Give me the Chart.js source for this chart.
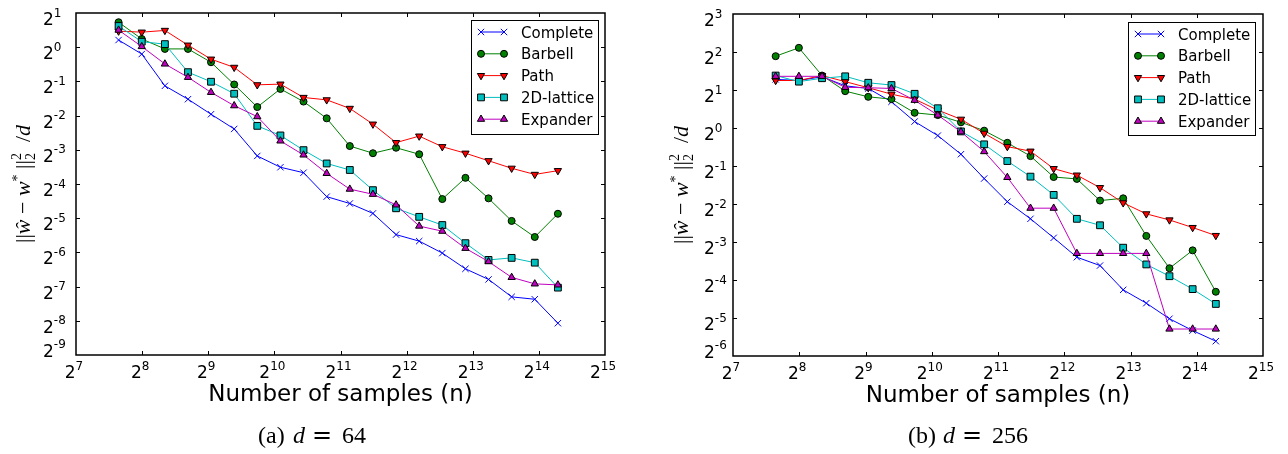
<!DOCTYPE html>
<html>
<head>
<meta charset="utf-8">
<script src="https://cdn.jsdelivr.net/npm/chart.js@4.4.0/dist/chart.umd.min.js"></script>
<style>
  body { margin: 0; background: #fff; }
  #wrap { position: relative; width: 1288px; height: 454px; }
  canvas { position: absolute; top: 0; display: block; }
  #chartA { left: 0; }
  #chartB { left: 644px; }
</style>
</head>
<body>
<div id="wrap">
  <canvas id="chartA" width="644" height="454"></canvas>
  <canvas id="chartB" width="644" height="454"></canvas>
</div>
<script>
// Number of samples n (both panels)
const samples = [200, 255, 325, 414, 527, 672, 856, 1091, 1390, 1772, 2258, 2877, 3667, 4673, 5954, 7588, 9666, 12316, 15695, 20000];

// log2 of ||w_hat - w*||^2 / d, panel (a) d = 64
const d64Complete = [0.21, -0.20, -1.13, -1.52, -1.96, -2.39, -3.18, -3.51, -3.67, -4.37, -4.57, -4.86, -5.48, -5.67, -6.02, -6.48, -6.79, -7.30, -7.37, -8.07];
const d64Barbell  = [0.73, 0.24, -0.05, -0.05, -0.44, -1.09, -1.75, -1.22, -1.59, -2.08, -2.89, -3.10, -2.94, -3.13, -4.44, -3.82, -4.42, -5.08, -5.55, -4.87];
const d64Path     = [0.47, 0.44, 0.49, 0.06, -0.35, -0.59, -1.10, -1.08, -1.47, -1.54, -1.79, -2.25, -2.79, -2.60, -2.91, -3.10, -3.32, -3.54, -3.72, -3.61];
const d64Lattice  = [0.62, 0.16, 0.09, -0.73, -1.01, -1.36, -2.30, -2.58, -3.01, -3.40, -3.59, -4.18, -4.71, -4.96, -5.20, -5.73, -6.22, -6.16, -6.30, -7.03];
const d64Expander = [0.50, 0.02, -0.49, -0.88, -1.32, -1.71, -2.03, -2.74, -3.15, -3.69, -4.15, -4.30, -4.61, -5.23, -5.38, -5.88, -6.27, -6.73, -6.92, -6.95];

// log2 of ||w_hat - w*||^2 / d, panel (b) d = 256
const d256Complete = [1.28, 1.25, 1.35, 1.11, 1.04, 0.69, 0.17, -0.20, -0.69, -1.33, -1.94, -2.39, -2.89, -3.40, -3.62, -4.26, -4.61, -5.02, -5.33, -5.61];
const d256Barbell  = [1.89, 2.11, 1.38, 0.97, 0.82, 0.76, 0.40, 0.34, 0.15, -0.07, -0.39, -0.74, -1.29, -1.34, -1.91, -1.85, -2.84, -3.69, -3.22, -4.31];
const d256Path     = [1.25, 1.25, 1.38, 1.22, 1.06, 0.89, 0.76, 0.47, 0.23, -0.14, -0.49, -0.61, -1.07, -1.24, -1.57, -1.97, -2.26, -2.42, -2.62, -2.83];
const d256Lattice  = [1.38, 1.22, 1.31, 1.36, 1.19, 1.13, 0.90, 0.52, -0.09, -0.43, -0.87, -1.28, -1.76, -2.39, -2.56, -3.15, -3.59, -3.90, -4.24, -4.63];
const d256Expander = [1.36, 1.36, 1.36, 1.07, 1.06, 1.04, 0.73, 0.34, -0.10, -0.62, -1.30, -2.11, -2.11, -3.30, -3.30, -3.30, -3.30, -5.29, -5.29, -5.29];

const seriesNames = ['Complete', 'Barbell', 'Path', '2D-lattice', 'Expander'];

// Tick exponents (labels are 2^k)
const xTickExps = [7, 8, 9, 10, 11, 12, 13, 14, 15];
const d64YTickExps = [1, 0, -1, -2, -3, -4, -5, -6, -7, -8, -9];
const d256YTickExps = [3, 2, 1, 0, -1, -2, -3, -4, -5, -6];

// Styles (matplotlib classic look)
const seriesColors = ['#0000ff', '#008000', '#ff0000', '#00bfbf', '#bf00bf'];
const pointStyles = ['crossRot', 'circle', 'triangle', 'rect', 'triangle'];
const pointRotations = [0, 0, 180, 0, 0];
const pointRadii = [4.5, 3.5, 4.2, 4.8, 4.2];

const SANS = '"DejaVu Sans", sans-serif';
const SERIF = '"Liberation Serif", "DejaVu Serif", serif';

// Panel layout settings
const panels = {
    chartA: { yTicks: d64YTickExps, yTickOffset: 33, yLabelX: 23, captionX: 258, caption: '(a)', dValue: '64',
              legend: { x: 471, y: 20, w: 127, h: 114 } },
    chartB: { yTicks: d256YTickExps, yTickOffset: 29, yLabelX: 37, captionX: 264, caption: '(b)', dValue: '256',
              legend: { x: 484, y: 22, w: 127, h: 113 } }
};

// Draw a marker like Chart.js does (used for legend)
function drawMarker(ctx, i, x, y) {
    const style = pointStyles[i], r = pointRadii[i];
    ctx.beginPath();
    if (style === 'circle') {
        ctx.arc(x, y, r, 0, Math.PI * 2);
    } else if (style === 'rect') {
        const s = r * Math.SQRT1_2;
        ctx.rect(x - s, y - s, 2 * s, 2 * s);
    } else if (style === 'triangle') {
        let a = pointRotations[i] * Math.PI / 180;
        for (let k = 0; k < 3; k++) {
            ctx.lineTo(x + Math.sin(a) * r, y - Math.cos(a) * r);
            a += Math.PI * 2 / 3;
        }
        ctx.closePath();
    } else {
        const o = r * Math.SQRT1_2;
        ctx.moveTo(x - o, y - o); ctx.lineTo(x + o, y + o);
        ctx.moveTo(x + o, y - o); ctx.lineTo(x - o, y + o);
    }
    if (style !== 'crossRot') {
        ctx.fillStyle = seriesColors[i];
        ctx.fill();
        ctx.strokeStyle = '#000';
    } else {
        ctx.strokeStyle = seriesColors[i];
    }
    ctx.lineWidth = 1;
    ctx.stroke();
}

// "2" with a superscript exponent
function drawPow(ctx, exp, x, baseline, centered) {
    ctx.font = '17px ' + SANS;
    const w2 = ctx.measureText('2').width;
    ctx.font = '12px ' + SANS;
    const es = String(exp);
    const we = ctx.measureText(es).width;
    const x0 = centered ? x - (w2 + we) / 2 : x;
    ctx.fillStyle = '#000';
    ctx.textAlign = 'left';
    ctx.textBaseline = 'alphabetic';
    ctx.font = '17px ' + SANS;
    ctx.fillText('2', x0, baseline);
    ctx.font = '12px ' + SANS;
    ctx.fillText(es, x0 + w2, baseline - 8.5);
}

// Draw a row of text pieces (font, text, dy, stack)
function drawPieces(ctx, pieces, xStart, baseline) {
    let x = xStart;
    let stackW = 0;
    pieces.forEach(p => {
        ctx.font = p.f;
        const w = ctx.measureText(p.t).width;
        ctx.fillText(p.t, x, baseline + (p.dy || 0));
        if (p.stack) {
            stackW = Math.max(stackW, w);
        } else {
            x += Math.max(w, stackW);
            stackW = 0;
        }
    });
    return x - xStart;
}

function yLabelPieces() {
    const big = 22, small = 14;
    return [
        { t: '||', f: `${big}px ${SERIF}` },
        { t: 'ŵ', f: `italic ${big}px ${SERIF}` },
        { t: ' − ', f: `${big}px ${SERIF}` },
        { t: 'w', f: `italic ${big}px ${SERIF}` },
        { t: '*', f: `${small}px ${SERIF}`, dy: -8 },
        { t: ' ||', f: `${big}px ${SERIF}` },
        { t: '2', f: `${small}px ${SERIF}`, dy: -9, stack: true },
        { t: '2', f: `${small}px ${SERIF}`, dy: 5 },
        { t: '  /', f: `${big}px ${SERIF}` },
        { t: 'd', f: `italic ${big}px ${SERIF}` }
    ];
}

const mplAxes = {
    id: 'mplAxes',
    afterDatasetsDraw(chart) {
        const ctx = chart.ctx;
        const a = chart.chartArea;
        const xs = chart.scales.x, ys = chart.scales.y;
        const p = panels[chart.canvas.id];
        ctx.save();
        ctx.strokeStyle = '#000';
        ctx.lineWidth = 1;
        // inner ticks
        ctx.beginPath();
        xTickExps.slice(1, -1).forEach(e => {
            const x = Math.round(xs.getPixelForValue(Math.pow(2, e))) + 0.5;
            ctx.moveTo(x, a.bottom); ctx.lineTo(x, a.bottom - 4);
            ctx.moveTo(x, a.top); ctx.lineTo(x, a.top + 4);
        });
        p.yTicks.slice(1, -1).forEach(e => {
            const y = Math.round(ys.getPixelForValue(Math.pow(2, e))) + 0.5;
            ctx.moveTo(a.left, y); ctx.lineTo(a.left + 4, y);
            ctx.moveTo(a.right, y); ctx.lineTo(a.right - 4, y);
        });
        ctx.stroke();
        // frame
        ctx.lineWidth = 1.5;
        ctx.strokeRect(a.left, a.top, a.right - a.left, a.bottom - a.top);
        ctx.restore();
    },
    afterDraw(chart) {
        const ctx = chart.ctx;
        const a = chart.chartArea;
        const xs = chart.scales.x, ys = chart.scales.y;
        const p = panels[chart.canvas.id];
        ctx.save();

        // tick labels
        xTickExps.forEach(e => {
            drawPow(ctx, e, xs.getPixelForValue(Math.pow(2, e)) - 2, a.bottom + 23, true);
        });
        const last = p.yTicks[p.yTicks.length - 1];
        p.yTicks.forEach(e => {
            const y = ys.getPixelForValue(Math.pow(2, e));
            drawPow(ctx, e, a.left - p.yTickOffset, y + (e === last ? 1.5 : 12), false);
        });

        // x axis title
        ctx.fillStyle = '#000';
        ctx.font = '23px ' + SANS;
        ctx.textAlign = 'center';
        ctx.textBaseline = 'alphabetic';
        ctx.fillText('Number of samples (n)', (a.left + a.right) / 2, a.bottom + 46);

        // y axis title (rotated)
        ctx.save();
        ctx.translate(p.yLabelX, (a.top + a.bottom) / 2);
        ctx.rotate(-Math.PI / 2);
        ctx.textAlign = 'left';
        const pieces = yLabelPieces();
        const total = drawPieces(ctx, pieces, -10000, -10000);
        drawPieces(ctx, pieces, -total / 2, 7);
        ctx.restore();

        // caption
        ctx.textAlign = 'left';
        const cx = p.captionX, cb = 443;
        ctx.font = `24px ${SERIF}`;
        ctx.fillText(p.caption, cx, cb);
        ctx.font = `italic 24px ${SERIF}`;
        ctx.fillText('d', cx + 35, cb);
        ctx.font = '24px "DejaVu Serif", serif';
        ctx.fillText('=', cx + 54, cb);
        ctx.font = `24px ${SERIF}`;
        ctx.fillText(p.dValue, cx + 84, cb);

        // legend
        const L = p.legend;
        ctx.fillStyle = '#fff';
        ctx.fillRect(L.x, L.y, L.w, L.h);
        ctx.strokeStyle = '#000';
        ctx.lineWidth = 1;
        ctx.strokeRect(L.x + 0.5, L.y + 0.5, L.w, L.h);
        seriesNames.forEach((name, i) => {
            const ry = L.y + 12 + i * 21.8;
            const x1 = L.x + 10, x2 = L.x + 33;
            ctx.beginPath();
            ctx.moveTo(x1, ry); ctx.lineTo(x2, ry);
            ctx.strokeStyle = seriesColors[i];
            ctx.lineWidth = 1;
            ctx.stroke();
            drawMarker(ctx, i, x1, ry);
            drawMarker(ctx, i, x2, ry);
            ctx.fillStyle = '#000';
            ctx.font = '15px ' + SANS;
            ctx.textAlign = 'left';
            ctx.textBaseline = 'alphabetic';
            ctx.fillText(name, L.x + 50, ry + 5.5);
        });
        ctx.restore();
    }
};

function makeChart(id, series, yMinExp, yMaxExp, padding) {
    const datasets = series.map((vals, i) => ({
        label: seriesNames[i],
        data: samples.map((n, k) => ({ x: n, y: Math.pow(2, vals[k]) })),
        borderColor: seriesColors[i],
        backgroundColor: seriesColors[i],
        borderWidth: 1,
        tension: 0,
        pointStyle: pointStyles[i],
        pointRotation: pointRotations[i],
        pointRadius: pointRadii[i],
        pointBackgroundColor: seriesColors[i],
        pointBorderColor: i === 0 ? seriesColors[0] : '#000',
        pointBorderWidth: 1,
        order: seriesNames.length - i
    }));

    return new Chart(document.getElementById(id), {
        type: 'line',
        data: { datasets },
        options: {
            responsive: false,
            animation: false,
            events: [],
            layout: { padding },
            scales: {
                x: { type: 'logarithmic', min: Math.pow(2, xTickExps[0]), max: Math.pow(2, xTickExps[xTickExps.length - 1]),
                     bounds: 'data', display: false },
                y: { type: 'logarithmic', min: Math.pow(2, yMinExp), max: Math.pow(2, yMaxExp),
                     bounds: 'data', display: false }
            },
            plugins: {
                legend: { display: false },
                tooltip: { enabled: false }
            }
        },
        plugins: [mplAxes]
    });
}

document.addEventListener('DOMContentLoaded', () => {
    makeChart('chartA', [d64Complete, d64Barbell, d64Path, d64Lattice, d64Expander], -9, 1,
              { left: 76, right: 39, top: 13, bottom: 99 });
    makeChart('chartB', [d256Complete, d256Barbell, d256Path, d256Lattice, d256Expander], -6, 3,
              { left: 89, right: 25, top: 14, bottom: 98 });
});
</script>
</body>
</html>
